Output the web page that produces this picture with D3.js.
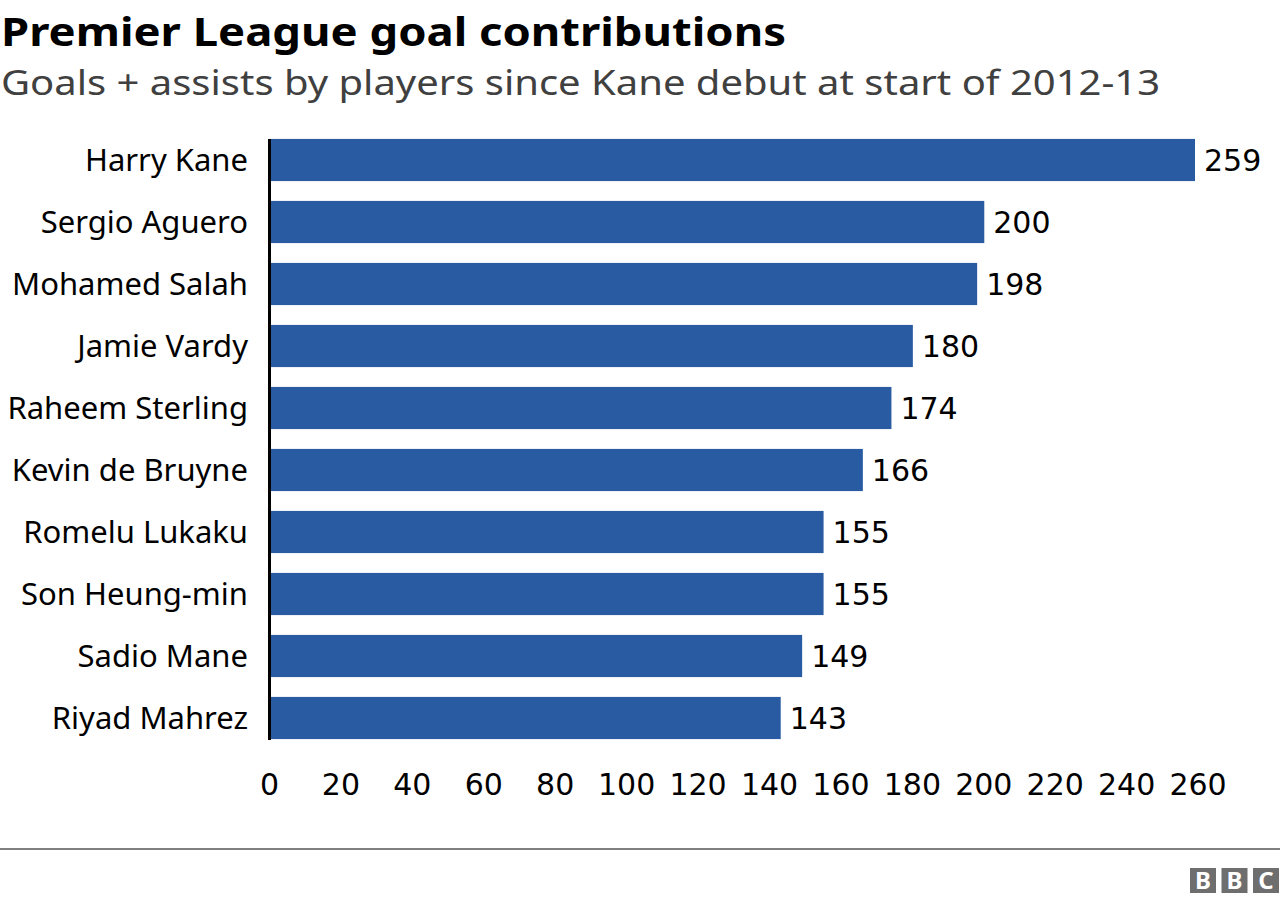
<!DOCTYPE html>
<html>
<head>
<meta charset="utf-8">
<script src="https://cdn.jsdelivr.net/npm/d3@7"></script>
<style>
  body { margin: 0; background: #fff; }
  svg { display: block; font-family: "Noto Sans", "Open Sans", sans-serif; }
</style>
</head>
<body>
<svg id="chart"></svg>
<script>
var players = ["Harry Kane", "Sergio Aguero", "Mohamed Salah", "Jamie Vardy", "Raheem Sterling",
               "Kevin de Bruyne", "Romelu Lukaku", "Son Heung-min", "Sadio Mane", "Riyad Mahrez"];
var contributions = [259, 200, 198, 180, 174, 166, 155, 155, 149, 143];
var tickValues = [0, 20, 40, 60, 80, 100, 120, 140, 160, 180, 200, 220, 240, 260];

var width = 1280;
var height = 904;
var digitFont = "DejaVu Sans, Noto Sans, sans-serif";

var svg = d3.select("#chart")
            .attr("width", width)
            .attr("height", height);

var x = d3.scaleLinear()
          .domain([0, 259])
          .range([270, 1195]);

var y = d3.scaleBand()
          .domain(players)
          .range([129, 749])
          .paddingInner(0.32)
          .paddingOuter(0.16);

/*Title and subtitle*/
svg.append("text")
   .attr("x", 1)
   .attr("y", 46)
   .attr("font-size", 40)
   .attr("font-weight", "bold")
   .attr("fill", "#000")
   .attr("textLength", 785)
   .attr("lengthAdjust", "spacingAndGlyphs")
   .text("Premier League goal contributions");

svg.append("text")
   .attr("x", 1)
   .attr("y", 95)
   .attr("font-size", 34)
   .attr("fill", "#404040")
   .attr("textLength", 1159)
   .attr("lengthAdjust", "spacingAndGlyphs")
   .text("Goals + assists by players since Kane debut at start of 2012-13");

/*Bars*/
svg.selectAll("rect.bar")
   .data(contributions)
   .enter()
   .append("rect")
   .attr("class", "bar")
   .attr("x", x(0))
   .attr("y", function(d, i)
   {
     return y(players[i]);
   })
   .attr("width", function(d)
   {
     return x(d) - x(0);
   })
   .attr("height", y.bandwidth())
   .attr("fill", "#285ba2");

/*Value labels*/
svg.selectAll("text.value")
   .data(contributions)
   .enter()
   .append("text")
   .attr("class", "value")
   .attr("x", function(d)
   {
     return x(d) + 9;
   })
   .attr("y", function(d, i)
   {
     return y(players[i]) + y.bandwidth() / 2;
   })
   .attr("dy", "0.36em")
   .attr("font-family", digitFont)
   .attr("font-size", 30)
   .attr("fill", "#000")
   .text(function(d)
   {
     return d;
   });

/*Category labels*/
svg.selectAll("text.name")
   .data(players)
   .enter()
   .append("text")
   .attr("class", "name")
   .attr("x", 248)
   .attr("y", function(d)
   {
     return y(d) + y.bandwidth() / 2;
   })
   .attr("dy", "0.35em")
   .attr("text-anchor", "end")
   .attr("font-size", 31)
   .attr("fill", "#000")
   .text(function(d)
   {
     return d;
   });

/*Vertical axis line*/
svg.append("line")
   .attr("x1", 269.5)
   .attr("x2", 269.5)
   .attr("y1", y(players[0]))
   .attr("y2", y(players[players.length - 1]) + y.bandwidth() + 1)
   .attr("stroke", "#000")
   .attr("stroke-width", 3);

/*X axis tick labels*/
var xAxis = svg.append("g")
               .attr("transform", "translate(-1,773)")
               .call(d3.axisBottom(x)
                       .tickValues(tickValues)
                       .tickSize(0)
                       .tickPadding(0));

xAxis.select(".domain").remove();
xAxis.selectAll("text")
     .attr("font-family", digitFont)
     .attr("font-size", 30)
     .attr("fill", "#000")
     .attr("dy", "0.73em");

/*Footer*/
svg.append("line")
   .attr("x1", 0)
   .attr("x2", width)
   .attr("y1", 849)
   .attr("y2", 849)
   .attr("stroke", "#808080")
   .attr("stroke-width", 2);

var logo = svg.append("g");
["B", "B", "C"].forEach(function(letter, i)
{
  logo.append("rect")
      .attr("x", 1190 + i * 31.5)
      .attr("y", 868)
      .attr("width", 26)
      .attr("height", 25)
      .attr("fill", "#6e6e6e");
  logo.append("text")
      .attr("x", 1190 + i * 31.5 + 13)
      .attr("y", 889)
      .attr("text-anchor", "middle")
      .attr("font-size", 24)
      .attr("font-weight", "bold")
      .attr("fill", "#fff")
      .text(letter);
});
</script>
</body>
</html>
